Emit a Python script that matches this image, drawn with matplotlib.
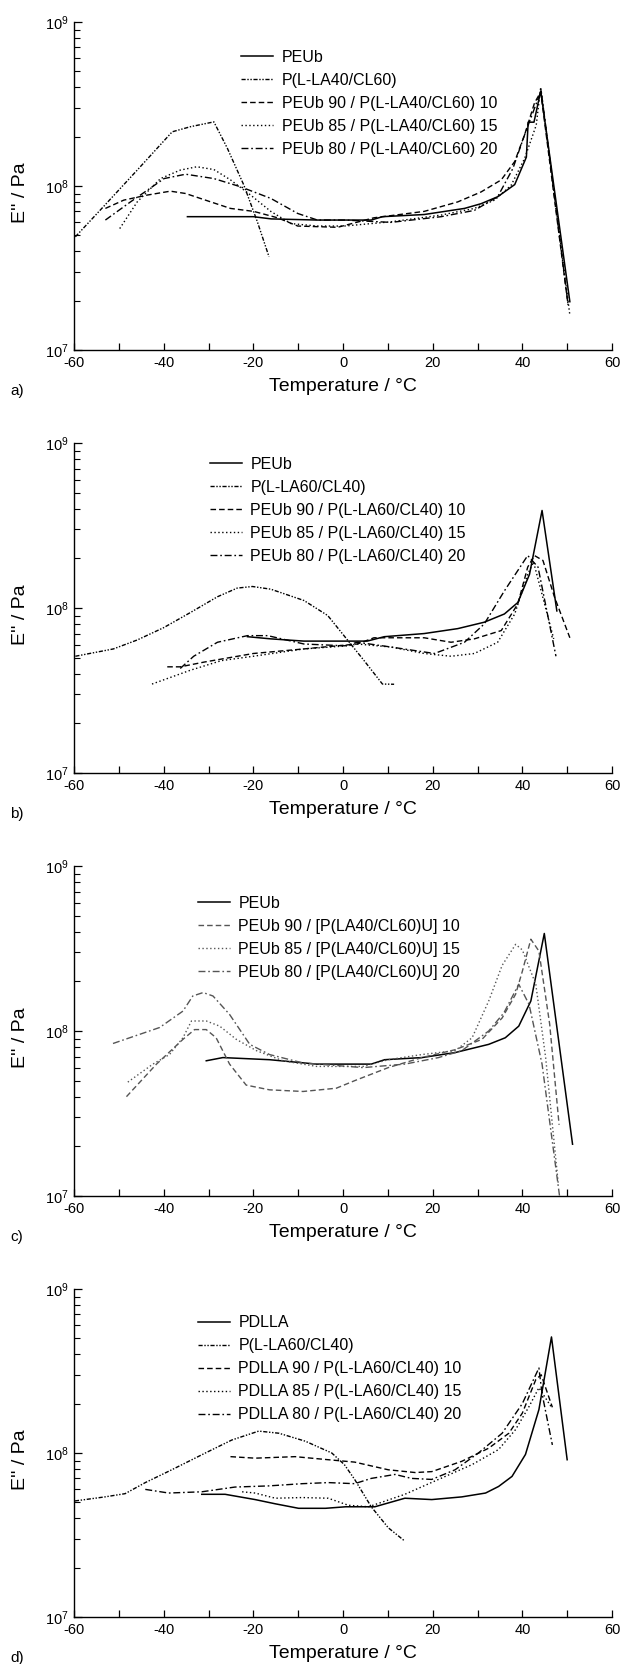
import matplotlib
matplotlib.use("Agg")
import math
import matplotlib.pyplot as plt
from matplotlib.ticker import FixedLocator, LogLocator, FuncFormatter, NullFormatter

plt.rcParams['font.family'] = ['Liberation Sans', 'DejaVu Sans']
plt.rcParams['axes.unicode_minus'] = False
plt.rcParams['mathtext.default'] = 'regular'

# ---- panel a) PEUb / P(L-LA40/CL60) ----
a_labels = ['PEUb', 'P(L-LA40/CL60)', 'PEUb 90 / P(L-LA40/CL60) 10',
            'PEUb 85 / P(L-LA40/CL60) 15', 'PEUb 80 / P(L-LA40/CL60) 20']
a_peub_T = [-34.7, -20, -16, -5.7, 6.3, 8.8, 18.1, 27.1, 30.8, 34.5, 38.3, 40.9, 41.3, 42.6, 44.1, 50.6]
a_peub_E = [6.5e7, 6.5e7, 6.3e7, 6.2e7, 6.2e7, 6.5e7, 6.7e7, 7.3e7, 7.8e7, 8.6e7, 1.02e8, 1.5e8, 2.45e8, 2.45e8, 3.8e8, 1.97e7]
a_cop_T = [-59.7, -53.4, -45.9, -38.1, -34, -28.8, -25.8, -22.1, -19.1, -16.5]
a_cop_E = [4.9e7, 7.5e7, 1.25e8, 2.14e8, 2.3e8, 2.46e8, 1.7e8, 1.01e8, 6.05e7, 3.7e7]
a_b90_T = [-53, -48.9, -43.7, -38.5, -35.1, -29.5, -25.1, -19.9, -14.6, -10.1, -1.2, 6.9, 18.1, 25.6, 30.8, 35.3, 38.3, 40.5, 42.7, 44.1, 50.2]
a_b90_E = [7.3e7, 8.2e7, 8.8e7, 9.3e7, 9.0e7, 8.0e7, 7.3e7, 7.0e7, 6.4e7, 5.7e7, 5.6e7, 6.4e7, 7.0e7, 8.0e7, 9.2e7, 1.09e8, 1.41e8, 2.05e8, 3.2e8, 3.75e8, 1.88e7]
a_b85_T = [-49.8, -45.9, -40.7, -36.3, -32.6, -28.8, -25.1, -20.6, -16.1, -11.6, -5.7, 0.3, 10.7, 21.9, 29.3, 33.8, 37.5, 40.5, 43.1, 44.1, 50.6]
a_b85_E = [5.5e7, 8.0e7, 1.11e8, 1.25e8, 1.31e8, 1.26e8, 1.09e8, 8.8e7, 7.0e7, 5.9e7, 5.7e7, 5.7e7, 6.05e7, 6.65e7, 7.3e7, 8.2e7, 1.01e8, 1.47e8, 2.35e8, 4.0e8, 1.63e7]
a_b80_T = [-53, -47.4, -39.9, -35.1, -28.8, -22.9, -16.1, -10.1, -5.7, 0.3, 10.7, 21.9, 29.3, 34.5, 37.9, 40.5, 43.5, 44.2, 50.2]
a_b80_E = [6.2e7, 8.0e7, 1.11e8, 1.18e8, 1.11e8, 9.9e7, 8.4e7, 6.8e7, 6.2e7, 6.2e7, 6.0e7, 6.5e7, 7.1e7, 8.6e7, 1.28e8, 2.05e8, 3.4e8, 3.8e8, 1.9e7]

# ---- panel b) PEUb / P(L-LA60/CL40) ----
b_labels = ['PEUb', 'P(L-LA60/CL40)', 'PEUb 90 / P(L-LA60/CL40) 10',
            'PEUb 85 / P(L-LA60/CL40) 15', 'PEUb 80 / P(L-LA60/CL40) 20']
b_peub_T = [-21.3, -16.1, -8.7, 0.3, 5.4, 9.2, 18.1, 25.6, 31.5, 36.0, 39.0, 41.6, 44.4, 47.7]
b_peub_E = [6.7e7, 6.5e7, 6.3e7, 6.3e7, 6.3e7, 6.7e7, 7.0e7, 7.5e7, 8.2e7, 9.2e7, 1.08e8, 1.6e8, 3.9e8, 9.6e7]
b_cop_T = [-59.7, -51.2, -45.9, -40.0, -34.0, -28.0, -23.6, -20.2, -16.1, -8.7, -3.4, 0.6, 4.7, 8.8, 11.4]
b_cop_E = [5.1e7, 5.65e7, 6.4e7, 7.6e7, 9.4e7, 1.17e8, 1.32e8, 1.35e8, 1.30e8, 1.11e8, 9.0e7, 6.6e7, 4.8e7, 3.46e7, 3.45e7]
b_b90_T = [-39.2, -36.3, -31.0, -20.0, -8.7, -4.3, 3.2, 6.9, 18.1, 24.1, 29.3, 35.3, 39.0, 41.2, 42.7, 44.6, 47.2, 50.6]
b_b90_E = [4.4e7, 4.4e7, 4.7e7, 5.3e7, 5.65e7, 5.8e7, 6.05e7, 6.6e7, 6.6e7, 6.2e7, 6.5e7, 7.3e7, 1.06e8, 1.77e8, 2.08e8, 1.94e8, 1.16e8, 6.6e7]
b_b85_T = [-42.6, -34.0, -27.1, -20.0, -8.7, 1.0, 3.2, 10.7, 18.1, 24.1, 29.3, 34.5, 38.3, 41.2, 42.5, 47.0]
b_b85_E = [3.46e7, 4.2e7, 4.8e7, 5.1e7, 5.65e7, 5.9e7, 6.05e7, 5.8e7, 5.3e7, 5.1e7, 5.3e7, 6.2e7, 9.2e7, 1.6e8, 1.9e8, 6.5e7]
b_b80_T = [-36.3, -33.3, -28.0, -21.3, -16.8, -8.7, 0.3, 3.2, 10.7, 20.4, 27.1, 31.5, 36.0, 41.2, 43.5, 47.5]
b_b80_E = [4.3e7, 5.1e7, 6.2e7, 6.8e7, 6.8e7, 6.05e7, 5.9e7, 6.2e7, 5.8e7, 5.3e7, 6.2e7, 8.0e7, 1.27e8, 2.08e8, 1.77e8, 5.1e7]

# ---- panel c) PEUb / [P(LA40/CL60)U] ----
c_labels = ['PEUb', 'PEUb 90 / [P(LA40/CL60)U] 10',
            'PEUb 85 / [P(LA40/CL60)U] 15', 'PEUb 80 / [P(LA40/CL60)U] 20']
c_peub_T = [-30.5, -26.8, -16.4, -5.9, 6.3, 9.3, 17.6, 25.0, 32.5, 36.2, 39.2, 41.9, 44.9, 51.2]
c_peub_E = [6.6e7, 6.9e7, 6.7e7, 6.3e7, 6.3e7, 6.7e7, 6.9e7, 7.4e7, 8.3e7, 9.1e7, 1.07e8, 1.52e8, 3.9e8, 2.06e7]
c_b90_T = [-48.3, -41.6, -35.7, -33.1, -30.5, -28.3, -25.3, -21.6, -16.4, -8.9, -1.5, 2.6, 10.1, 17.6, 25.0, 31.0, 35.5, 38.5, 40.0, 41.9, 43.7, 46.1, 48.2]
c_b90_E = [4.0e7, 6.3e7, 8.9e7, 1.02e8, 1.02e8, 9.1e7, 6.3e7, 4.7e7, 4.4e7, 4.3e7, 4.5e7, 5.0e7, 6.0e7, 6.9e7, 7.7e7, 8.9e7, 1.2e8, 1.67e8, 2.3e8, 3.6e8, 3.05e8, 1.1e8, 2.7e7]
c_b85_T = [-48.0, -42.4, -38.7, -35.7, -33.8, -30.5, -27.5, -23.8, -19.3, -13.4, -5.9, 4.5, 10.1, 17.6, 25.0, 28.8, 32.5, 35.5, 38.5, 40.0, 43.0, 45.2, 48.0]
c_b85_E = [4.9e7, 6.3e7, 7.2e7, 9.1e7, 1.15e8, 1.15e8, 1.07e8, 8.9e7, 7.6e7, 6.6e7, 6.1e7, 6.1e7, 6.7e7, 7.2e7, 7.6e7, 9.1e7, 1.52e8, 2.5e8, 3.35e8, 3.1e8, 1.92e8, 6.9e7, 1.2e7]
c_b80_T = [-51.3, -40.9, -35.7, -33.5, -31.2, -29.0, -25.3, -20.8, -16.4, -8.9, 4.5, 13.8, 21.3, 26.5, 32.5, 35.9, 39.2, 41.5, 44.4, 48.3]
c_b80_E = [8.4e7, 1.05e8, 1.32e8, 1.63e8, 1.71e8, 1.63e8, 1.26e8, 8.3e7, 7.2e7, 6.4e7, 6.0e7, 6.3e7, 6.9e7, 7.6e7, 1.0e8, 1.29e8, 1.92e8, 1.45e8, 6.3e7, 1.0e7]

# ---- panel d) PDLLA / P(L-LA60/CL40) ----
d_labels = ['PDLLA', 'P(L-LA60/CL40)', 'PDLLA 90 / P(L-LA60/CL40) 10',
            'PDLLA 85 / P(L-LA60/CL40) 15', 'PDLLA 80 / P(L-LA60/CL40) 20']
d_pdlla_T = [-31.5, -26.3, -19.6, -15.1, -9.9, -3.9, 0.6, 7.1, 13.8, 19.8, 26.5, 31.8, 34.7, 37.7, 40.7, 43.7, 46.5, 50.0]
d_pdlla_E = [5.6e7, 5.6e7, 5.2e7, 4.9e7, 4.6e7, 4.6e7, 4.7e7, 4.7e7, 5.3e7, 5.2e7, 5.4e7, 5.7e7, 6.25e7, 7.2e7, 9.8e7, 1.84e8, 5.1e8, 9.1e7]
d_cop_T = [-59.8, -53.1, -48.6, -44.1, -38.2, -30.7, -24.8, -18.8, -14.3, -8.4, -2.5, 0.3, 2.6, 6.3, 10.1, 13.8]
d_cop_E = [5.1e7, 5.4e7, 5.65e7, 6.6e7, 7.9e7, 1.0e8, 1.2e8, 1.36e8, 1.32e8, 1.18e8, 1.0e8, 8.5e7, 6.9e7, 4.7e7, 3.5e7, 2.9e7]
d_b90_T = [-25.1, -19.6, -10.7, -3.3, 2.6, 10.1, 16.1, 19.8, 26.5, 32.5, 37.0, 40.0, 43.0, 44.2, 46.7]
d_b90_E = [9.5e7, 9.3e7, 9.5e7, 9.1e7, 8.8e7, 7.9e7, 7.6e7, 7.7e7, 8.9e7, 1.07e8, 1.32e8, 1.75e8, 2.8e8, 3.0e8, 1.9e8]
d_b85_T = [-22.5, -19.6, -15.1, -9.1, -3.3, 1.2, 5.7, 13.8, 21.3, 28.8, 34.7, 38.5, 41.5, 43.7, 46.5]
d_b85_E = [5.8e7, 5.7e7, 5.3e7, 5.35e7, 5.3e7, 4.8e7, 4.7e7, 5.6e7, 6.9e7, 8.5e7, 1.05e8, 1.39e8, 1.92e8, 2.5e8, 1.9e8]
d_b80_T = [-44.1, -38.9, -31.5, -24.1, -16.6, -9.1, -3.3, 2.6, 6.3, 11.6, 15.3, 19.8, 25.0, 30.2, 35.5, 40.0, 43.7, 44.4, 46.7]
d_b80_E = [6.0e7, 5.7e7, 5.8e7, 6.2e7, 6.3e7, 6.5e7, 6.6e7, 6.5e7, 7.0e7, 7.4e7, 7.0e7, 6.9e7, 7.9e7, 1.0e8, 1.32e8, 2.0e8, 3.3e8, 2.3e8, 1.12e8]

# line styles: solid, dash-dot-dot, dashed, dotted, dash-dot
ls_solid = '-'
ls_cop = (0, (3, 1.2, 1, 1.2, 1, 1.2))
ls_dash = (0, (4, 2.2))
ls_dot = (0, (1, 1.8))
ls_dashdot = (0, (5, 2, 1.2, 2))

W, H = 623, 1664
fig = plt.figure(figsize=(W / 100, H / 100), dpi=100)

# axes boxes in pixels (top, bottom)
boxes = [(22, 350), (443, 773), (866, 1196), (1289, 1617)]
left_px, right_px = 74, 612
# legend upper-left anchors in axes fraction
leg_pos = [(0.31, 0.915), (0.252, 0.958), (0.23, 0.91), (0.23, 0.92)]

panels = [
    ('a)', a_labels, [(a_peub_T, a_peub_E, ls_solid), (a_cop_T, a_cop_E, ls_cop),
                      (a_b90_T, a_b90_E, ls_dash), (a_b85_T, a_b85_E, ls_dot),
                      (a_b80_T, a_b80_E, ls_dashdot)], 'black'),
    ('b)', b_labels, [(b_peub_T, b_peub_E, ls_solid), (b_cop_T, b_cop_E, ls_cop),
                      (b_b90_T, b_b90_E, ls_dash), (b_b85_T, b_b85_E, ls_dot),
                      (b_b80_T, b_b80_E, ls_dashdot)], 'black'),
    ('c)', c_labels, [(c_peub_T, c_peub_E, ls_solid), (c_b90_T, c_b90_E, ls_dash),
                      (c_b85_T, c_b85_E, ls_dot), (c_b80_T, c_b80_E, ls_dashdot)], '#555555'),
    ('d)', d_labels, [(d_pdlla_T, d_pdlla_E, ls_solid), (d_cop_T, d_cop_E, ls_cop),
                      (d_b90_T, d_b90_E, ls_dash), (d_b85_T, d_b85_E, ls_dot),
                      (d_b80_T, d_b80_E, ls_dashdot)], 'black'),
]

for i, (tag, labels, series, col) in enumerate(panels):
    top, bot = boxes[i]
    ax = fig.add_axes([left_px / W, 1 - bot / H, (right_px - left_px) / W, (bot - top) / H])
    for j, (T, E, ls) in enumerate(series):
        c = 'black' if j == 0 else col
        ax.plot(T, E, color=c, linestyle=ls, lw=1.1 if j == 0 else 1.0, label=labels[j])

    ax.set_yscale('log')
    ax.set_xlim(-60, 60)
    ax.set_ylim(1e7, 1e9)
    ax.spines['top'].set_visible(False)
    ax.spines['right'].set_visible(False)
    for s in ('left', 'bottom'):
        ax.spines[s].set_linewidth(1.0)

    ax.xaxis.set_major_locator(FixedLocator(range(-60, 61, 20)))
    ax.xaxis.set_minor_locator(FixedLocator(range(-50, 61, 20)))
    ax.yaxis.set_major_locator(LogLocator(base=10))
    ax.yaxis.set_minor_locator(LogLocator(base=10, subs=range(2, 10)))
    ax.yaxis.set_major_formatter(FuncFormatter(lambda v, p: r'$10^{%d}$' % round(math.log10(v))))
    ax.yaxis.set_minor_formatter(NullFormatter())
    ax.tick_params(axis='x', which='both', direction='in', length=5, width=0.9, labelsize=10.5, pad=4)
    ax.tick_params(axis='y', which='major', direction='in', length=6, width=0.9, labelsize=10.5, pad=4)
    ax.tick_params(axis='y', which='minor', direction='in', length=4, width=0.8)

    ax.set_xlabel('Temperature / °C', fontsize=14)
    ax.xaxis.set_label_coords(0.5, -0.085)
    ax.set_ylabel("E'' / Pa", fontsize=14)
    ax.yaxis.set_label_coords(-0.083, 0.48)
    ax.text(-0.118, -0.125, tag, transform=ax.transAxes, fontsize=11, ha='left', va='center')

    ax.legend(loc='upper left', bbox_to_anchor=leg_pos[i], frameon=False, fontsize=11.5,
              borderpad=0, borderaxespad=0, handlelength=2.0, handletextpad=0.55,
              labelspacing=0.5)

fig.savefig('out.png', dpi=100)
